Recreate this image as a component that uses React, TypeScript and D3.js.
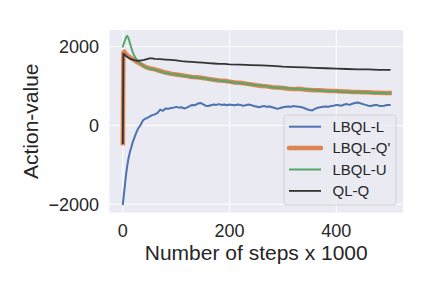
import React from "react";
import * as d3 from "d3";

// x values are steps (x1000), y values are action-values
const blueX = [0, 2, 4, 6, 8, 10, 12, 14, 16, 18, 20, 22, 24, 26, 28, 30, 32, 35, 38, 42, 46, 50, 55, 60, 65, 70, 75, 80, 85, 90, 95, 100, 105, 110, 115, 120, 125, 130, 135, 140, 145, 150, 155, 160, 165, 170, 175, 180, 185, 190, 195, 200, 205, 210, 215, 220, 225, 230, 235, 240, 245, 250, 255, 260, 265, 270, 275, 280, 285, 290, 295, 300, 305, 310, 315, 320, 325, 330, 335, 340, 345, 350, 355, 360, 365, 370, 375, 380, 385, 390, 395, 400, 405, 410, 415, 420, 425, 430, 435, 440, 445, 450, 455, 460, 465, 470, 475, 480, 485, 490, 495, 500];
const blueY = [-2000, -1750, -1500, -1250, -1050, -880, -750, -640, -550, -450, -370, -300, -230, -160, -100, -50, -20, 60, 130, 170, 190, 220, 260, 280, 320, 400, 370, 430, 420, 440, 450, 470, 450, 460, 430, 450, 490, 520, 510, 550, 570, 540, 500, 490, 510, 530, 520, 540, 520, 530, 510, 530, 520, 510, 530, 520, 500, 510, 530, 520, 490, 480, 460, 480, 490, 470, 480, 460, 440, 420, 440, 460, 470, 480, 470, 490, 480, 470, 460, 440, 410, 390, 380, 420, 450, 460, 470, 480, 470, 490, 500, 520, 510, 500, 530, 540, 520, 550, 570, 580, 560, 540, 520, 500, 490, 510, 520, 500, 490, 500, 520, 520];

const orangeX = [0, 1, 3, 5, 8, 12, 16, 20, 25, 30, 35, 40, 45, 50, 60, 70, 80, 90, 100, 110, 120, 130, 140, 150, 160, 170, 180, 190, 200, 210, 220, 230, 240, 250, 260, 270, 280, 290, 300, 310, 320, 330, 340, 350, 360, 370, 380, 390, 400, 410, 420, 430, 440, 450, 460, 470, 480, 490, 500];
const orangeY = [-450, 1850, 1870, 1820, 1780, 1740, 1700, 1670, 1620, 1580, 1540, 1500, 1470, 1450, 1420, 1380, 1340, 1310, 1290, 1270, 1250, 1230, 1220, 1200, 1180, 1160, 1140, 1130, 1110, 1090, 1080, 1060, 1040, 1020, 1000, 990, 970, 960, 950, 930, 920, 930, 910, 900, 890, 890, 880, 870, 870, 860, 860, 850, 850, 840, 840, 830, 830, 820, 820];

const greenX = [0, 2, 4, 6, 8, 10, 12, 14, 16, 18, 20, 22, 25, 28, 30, 35, 40, 45, 50, 55, 60, 65, 70, 75, 80, 85, 90, 95, 100, 105, 110, 115, 120, 125, 130, 135, 140, 145, 150, 155, 160, 165, 170, 175, 180, 185, 190, 195, 200, 210, 220, 230, 240, 250, 260, 270, 280, 290, 300, 310, 320, 330, 340, 350, 360, 370, 380, 390, 400, 410, 420, 430, 440, 450, 460, 470, 480, 490, 500];
const greenY = [2000, 2080, 2160, 2230, 2270, 2230, 2150, 2050, 1960, 1880, 1810, 1750, 1690, 1640, 1600, 1550, 1500, 1460, 1440, 1430, 1410, 1400, 1370, 1350, 1330, 1320, 1310, 1300, 1290, 1280, 1260, 1250, 1250, 1240, 1220, 1220, 1210, 1200, 1200, 1190, 1170, 1160, 1150, 1150, 1140, 1130, 1120, 1120, 1100, 1090, 1070, 1060, 1040, 1020, 1010, 990, 970, 950, 960, 940, 930, 920, 920, 910, 890, 880, 880, 870, 860, 860, 850, 850, 840, 840, 830, 830, 820, 820, 810];

const blackX = [0, 1, 3, 6, 10, 15, 20, 25, 30, 35, 40, 45, 50, 55, 60, 70, 80, 90, 100, 110, 120, 130, 140, 150, 160, 170, 180, 190, 200, 220, 240, 260, 280, 300, 320, 340, 360, 380, 400, 420, 440, 460, 480, 500];
const blackY = [-450, 1820, 1800, 1760, 1720, 1680, 1660, 1640, 1640, 1650, 1660, 1680, 1700, 1700, 1690, 1680, 1670, 1660, 1650, 1630, 1620, 1610, 1600, 1590, 1580, 1570, 1560, 1560, 1550, 1540, 1530, 1520, 1510, 1490, 1480, 1470, 1460, 1450, 1440, 1430, 1420, 1420, 1410, 1410];

const seriesNames = ["LBQL-L", "LBQL-Q'", "LBQL-U", "QL-Q"];
const xTicks = [0, 200, 400];
const yTicks = [-2000, 0, 2000];

const W = 432;
const H = 286;
const font = "'Liberation Sans', Arial, sans-serif";

export default function App() {
  const x = d3.scaleLinear().domain([-25, 525]).range([109.5, 403]);
  const y = d3.scaleLinear().domain([-2210, 2420]).range([212.5, 30]);

  const series = [
    { name: seriesNames[0], xs: blueX, ys: blueY, color: "#4c72b0", width: 2 },
    { name: seriesNames[1], xs: orangeX, ys: orangeY, color: "#dd8452", width: 4.5 },
    { name: seriesNames[2], xs: greenX, ys: greenY, color: "#55a868", width: 2 },
    { name: seriesNames[3], xs: blackX, ys: blackY, color: "#333333", width: 1.8 },
  ];

  const line = d3
    .line<[number, number]>()
    .x((d) => x(d[0]))
    .y((d) => y(d[1]));

  const [x0, x1] = x.range();
  const [y0, y1] = y.range();

  return (
    <svg width={W} height={H} style={{ position: "absolute", left: 0, top: 0 }} fontFamily={font}>
      <rect width={W} height={H} fill="#ffffff" />
      <rect x={x0} y={y1} width={x1 - x0} height={y0 - y1} fill="#eaeaf2" />
      {/* grid */}
      {xTicks.map((t) => (
        <line key={"gx" + t} x1={x(t)} x2={x(t)} y1={y1} y2={y0} stroke="#ffffff" strokeWidth={1} />
      ))}
      {yTicks.map((t) => (
        <line key={"gy" + t} x1={x0} x2={x1} y1={y(t)} y2={y(t)} stroke="#ffffff" strokeWidth={1} />
      ))}
      {/* lines */}
      {series.map((s) => (
        <path
          key={s.name}
          d={line(s.xs.map((v, i) => [v, s.ys[i]] as [number, number])) || ""}
          fill="none"
          stroke={s.color}
          strokeWidth={s.width}
          strokeLinejoin="round"
          strokeLinecap="square"
        />
      ))}
      {/* tick labels */}
      {xTicks.map((t) => (
        <text key={"tx" + t} x={x(t)} y={236.5} textAnchor="middle" fontSize={18} fill="#262626">
          {t}
        </text>
      ))}
      {yTicks.map((t) => (
        <text key={"ty" + t} x={99} y={y(t)} dy="0.35em" textAnchor="end" fontSize={18} fill="#262626">
          {t < 0 ? "\u2212" + Math.abs(t) : t}
        </text>
      ))}
      {/* axis labels */}
      <text x={(x0 + x1) / 2} y={260} textAnchor="middle" fontSize={21} fill="#262626">
        Number of steps x 1000
      </text>
      <text
        transform={`translate(38, ${(y0 + y1) / 2}) rotate(-90)`}
        textAnchor="middle"
        fontSize={21}
        fill="#262626"
      >
        Action-value
      </text>
      {/* legend */}
      <g>
        <rect x={284} y={115} width={112} height={90} rx={3} fill="#eaeaf2" fillOpacity={0.8} stroke="#cccccc" strokeOpacity={0.8} />
        {series.map((s, i) => {
          const ly = 126.7 + i * 21.4;
          return (
            <g key={"lg" + s.name}>
              <line x1={289} x2={321} y1={ly} y2={ly} stroke={s.color} strokeWidth={s.width} strokeLinecap={s.width > 3 ? "round" : "butt"} />
              <text x={332.5} y={ly} dy="0.35em" fontSize={15} fill="#262626">
                {s.name}
              </text>
            </g>
          );
        })}
      </g>
    </svg>
  );
}
